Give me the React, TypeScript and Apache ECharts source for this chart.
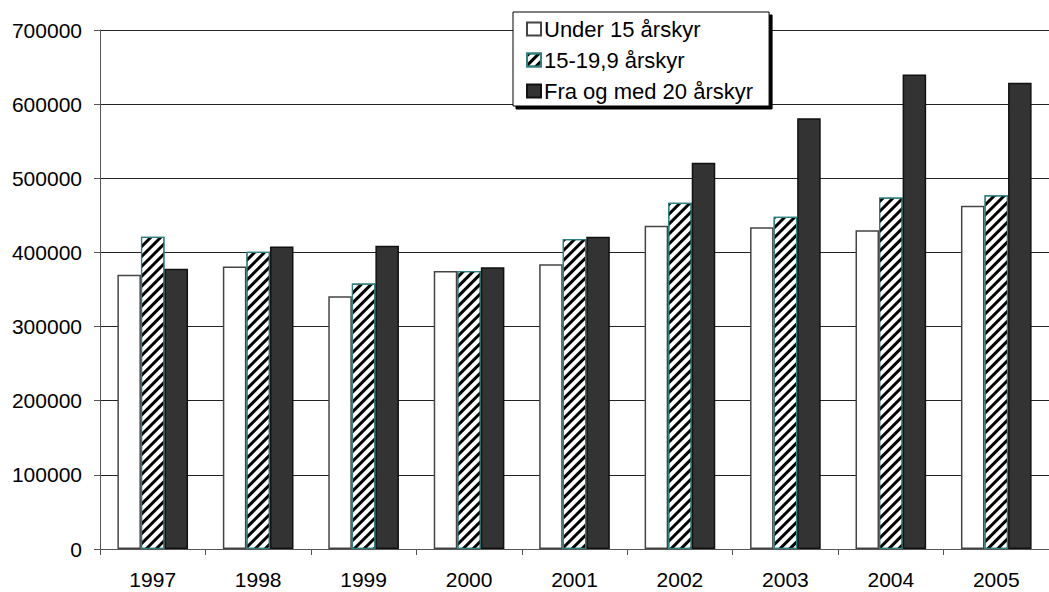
import React, { useEffect, useRef } from "react";
import * as echarts from "echarts";

const categories = ["1997", "1998", "1999", "2000", "2001", "2002", "2003", "2004", "2005"];
const seriesNames = ["Under 15 årskyr", "15-19,9 årskyr", "Fra og med 20 årskyr"];
const under15 = [370000, 381000, 341000, 375000, 384000, 436000, 434000, 430000, 463000];
const from15to19 = [421000, 401000, 358000, 375000, 418000, 467000, 448000, 474000, 477000];
const from20 = [378000, 408000, 409000, 380000, 421000, 521000, 581000, 640000, 629000];

export default function App() {
  const ref = useRef<HTMLDivElement>(null);
  useEffect(() => {
    if (!ref.current) return;
    const chart = echarts.init(ref.current, null, { renderer: "svg" });
    const font = "'Liberation Sans', Arial, sans-serif";
    chart.setOption({
      animation: false,
      grid: { left: 100, top: 30, width: 958, height: 519, containLabel: false },
      legend: {
        left: 513,
        top: 12,
        orient: "vertical",
        selectedMode: false,
        backgroundColor: "#fff",
        borderColor: "#000",
        borderWidth: 1,
        borderRadius: 0,
        shadowColor: "#000",
        shadowOffsetX: 3,
        shadowOffsetY: 3,
        shadowBlur: 0,
        padding: [6, 16, 4, 13],
        itemGap: 9,
        itemWidth: 14,
        itemHeight: 13,
        icon: "rect",
        textStyle: { fontFamily: font, fontSize: 22, color: "#000", padding: [0, 0, 0, -2] },
        data: seriesNames,
      },
      xAxis: {
        type: "category",
        data: categories,
        axisLine: { lineStyle: { color: "#555", width: 1 } },
        axisTick: { show: true, length: 6, lineStyle: { color: "#555" } },
        axisLabel: { fontFamily: font, fontSize: 21, color: "#000", margin: 20 },
        splitLine: { show: false },
      },
      yAxis: {
        type: "value",
        min: 0,
        max: 700000,
        interval: 100000,
        axisLine: { show: true, lineStyle: { color: "#555", width: 1 } },
        axisTick: { show: true, length: 6, lineStyle: { color: "#555" } },
        axisLabel: {
          fontFamily: font,
          fontSize: 21,
          color: "#000",
          margin: 18,
          formatter: (v: number) => String(v),
        },
        splitLine: { show: true, lineStyle: { color: "#222", width: 1 } },
      },
      series: [
        {
          name: seriesNames[0],
          type: "bar",
          data: under15,
          barGap: "0%",
          barCategoryGap: "33%",
          itemStyle: { color: "#fff", borderColor: "#444", borderWidth: 1.5 },
        },
        {
          name: seriesNames[1],
          type: "bar",
          data: from15to19,
          barGap: "0%",
          barCategoryGap: "33%",
          itemStyle: {
            color: "#fff",
            borderColor: "#2f8080",
            borderWidth: 1.2,
            decal: {
              symbol: "rect",
              symbolSize: 1,
              color: "#000",
              dashArrayX: [1, 0],
              dashArrayY: [3, 4],
              rotation: -Math.PI / 4,
            },
          },
        },
        {
          name: seriesNames[2],
          type: "bar",
          data: from20,
          barGap: "0%",
          barCategoryGap: "33%",
          itemStyle: { color: "#333", borderColor: "#111", borderWidth: 1.5 },
        },
      ],
    });
    return () => chart.dispose();
  }, []);
  return (
    <div
      ref={ref}
      style={{ position: "fixed", left: 0, top: 0, width: 1049, height: 592, background: "#fff" }}
    />
  );
}
